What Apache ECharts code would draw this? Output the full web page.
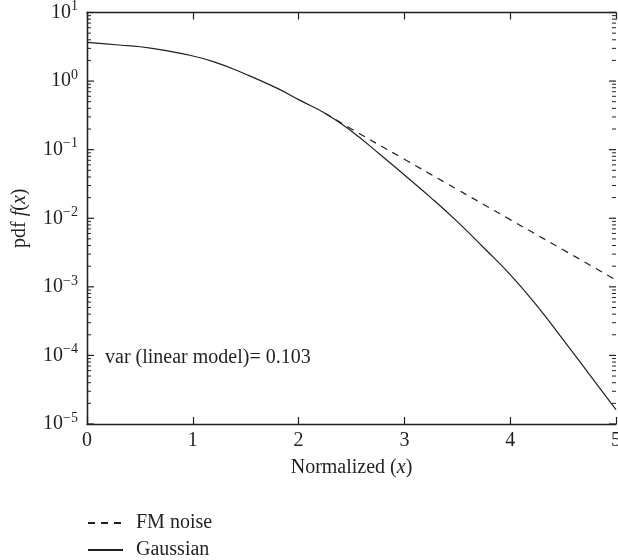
<!DOCTYPE html>
<html>
<head>
<meta charset="utf-8">
<script src="https://cdn.jsdelivr.net/npm/echarts@6/dist/echarts.min.js"></script>
<style>
	html, body { margin: 0; padding: 0; background: #fff; }
	#chart { width: 618px; height: 560px; }
</style>
</head>
<body>
<div id="chart"></div>
<script>
	// data
	var xGauss = [0, 0.3, 0.6, 0.9, 1.2, 1.5, 1.8, 2.0, 2.25, 2.5, 2.77, 3.0, 3.25, 3.5, 3.75, 4.0, 4.25, 4.5, 4.75, 5.0];
	var yGauss = [3.67, 3.36, 3.03, 2.51, 1.91, 1.26, 0.783, 0.537, 0.339, 0.186, 0.0851, 0.0427, 0.0200, 0.00891, 0.00372, 0.00151, 0.000537, 0.000170, 0.0000525, 0.0000162];
	var xFM = [2.25, 2.5, 3.0, 3.5, 4.0, 4.5, 5.0];
	var yFM = [0.339, 0.200, 0.0724, 0.0263, 0.00955, 0.00347, 0.00126];
	var seriesNames = ['FM noise', 'Gaussian'];
	var note = 'var (linear model)= 0.103';
	var minorSteps = [2, 3, 4, 5, 6, 7, 8, 9];
	var decades = [-5, -4, -3, -2, -1, 0, 1];

	var ink = '#231f20';
	var serif = '"Liberation Serif", "DejaVu Serif", serif';

	function pairs(xs, ys) {
		return xs.map(function (x, i) { return [x, ys[i]]; });
	}

	// ticks of the log axis: [tick length, value]
	var yTicks = [];
	decades.forEach(function (d) {
		yTicks.push([7, Math.pow(10, d)]);
		if (d < 1) {
			minorSteps.forEach(function (k) {
				yTicks.push([4, k * Math.pow(10, d)]);
			});
		}
	});

	function powLabel(v) {
		var e = Math.round(Math.log(v) / Math.LN10);
		return '{b|10}{s|' + (e < 0 ? '\u2212' + (-e) : e) + '}';
	}

	var myChart = echarts.init(document.getElementById('chart'));

	var option = {
		backgroundColor: '#fff',
		animation: false,
		grid: { left: 87, right: 2, top: 12.5, bottom: 136, containLabel: false, outerBoundsMode: 'none' },
		legend: {
			data: seriesNames,
			orient: 'vertical',
			left: 87,
			top: 513,
			padding: 0,
			itemWidth: 35,
			itemHeight: 2,
			itemGap: 7,
			itemStyle: { opacity: 0 },
			textStyle: { fontFamily: serif, fontSize: 20, color: ink, lineHeight: 18, padding: [0, 0, 0, 8] }
		},
		graphic: [{
			type: 'text',
			left: 105,
			top: 348,
			style: { text: note, font: '20px ' + serif, fill: ink }
		}],
		xAxis: [{
			type: 'value',
			min: 0, max: 5, interval: 1,
			name: 'Normalized ({i|x})',
			nameLocation: 'middle',
			nameGap: 34,
			nameTextStyle: {
				fontFamily: serif, fontSize: 20, color: ink,
				rich: { i: { fontFamily: serif, fontSize: 20, fontStyle: 'italic', color: ink } }
			},
			axisLine: { lineStyle: { color: ink, width: 1.3 } },
			axisTick: { inside: true, length: 7, lineStyle: { color: ink, width: 1.2 } },
			axisLabel: { fontFamily: serif, fontSize: 20, color: ink, margin: 7 },
			splitLine: { show: false }
		}, {
			type: 'value',
			position: 'top',
			min: 0, max: 5, interval: 1,
			axisLine: { lineStyle: { color: ink, width: 1.3 } },
			axisTick: { inside: true, length: 7, lineStyle: { color: ink, width: 1.2 } },
			axisLabel: { show: false },
			splitLine: { show: false }
		}],
		yAxis: [{
			type: 'log',
			logBase: 10,
			min: 1e-5, max: 10,
			name: 'pdf {i|f}({i|x})',
			nameLocation: 'middle',
			nameGap: 57,
			nameTextStyle: {
				fontFamily: serif, fontSize: 20, color: ink,
				rich: { i: { fontFamily: serif, fontSize: 20, fontStyle: 'italic', color: ink } }
			},
			axisLine: { show: true, lineStyle: { color: ink, width: 1.3 } },
			axisTick: { show: false },
			axisLabel: {
				margin: 9,
				formatter: powLabel,
				rich: {
					b: { fontFamily: serif, fontSize: 20, color: ink, lineHeight: 26 },
					s: { fontFamily: serif, fontSize: 14, color: ink, lineHeight: 14, verticalAlign: 'top' }
				}
			},
			splitLine: { show: false }
		}, {
			type: 'log',
			logBase: 10,
			position: 'right',
			min: 1e-5, max: 10,
			axisLine: { show: true, lineStyle: { color: ink, width: 1.3 } },
			axisTick: { show: false },
			axisLabel: { show: false },
			splitLine: { show: false }
		}],
		series: [{
			name: 'FM noise',
			type: 'line',
			smooth: 0.5,
			symbol: 'none',
			data: pairs(xFM, yFM),
			lineStyle: { color: ink, width: 1.2, type: [7, 6] },
			itemStyle: { color: ink },
			z: 3
		}, {
			name: 'Gaussian',
			type: 'line',
			smooth: 0.5,
			symbol: 'none',
			data: pairs(xGauss, yGauss),
			lineStyle: { color: ink, width: 1.2 },
			itemStyle: { color: ink },
			z: 4
		}, {
			name: 'yTicks',
			type: 'custom',
			silent: true,
			clip: false,
			data: yTicks,
			renderItem: function (params, api) {
				var len = api.value(0);
				var v = api.value(1);
				var pL = api.coord([0, v]);
				var pR = api.coord([5, v]);
				var st = { stroke: ink, lineWidth: len > 5 ? 1.2 : 1 };
				return {
					type: 'group',
					children: [
						{ type: 'line', shape: { x1: pL[0], y1: pL[1], x2: pL[0] + len, y2: pL[1] }, style: st },
						{ type: 'line', shape: { x1: pR[0] - len, y1: pR[1], x2: pR[0], y2: pR[1] }, style: st }
					]
				};
			}
		}]
	};

	myChart.setOption(option);
</script>
</body>
</html>
